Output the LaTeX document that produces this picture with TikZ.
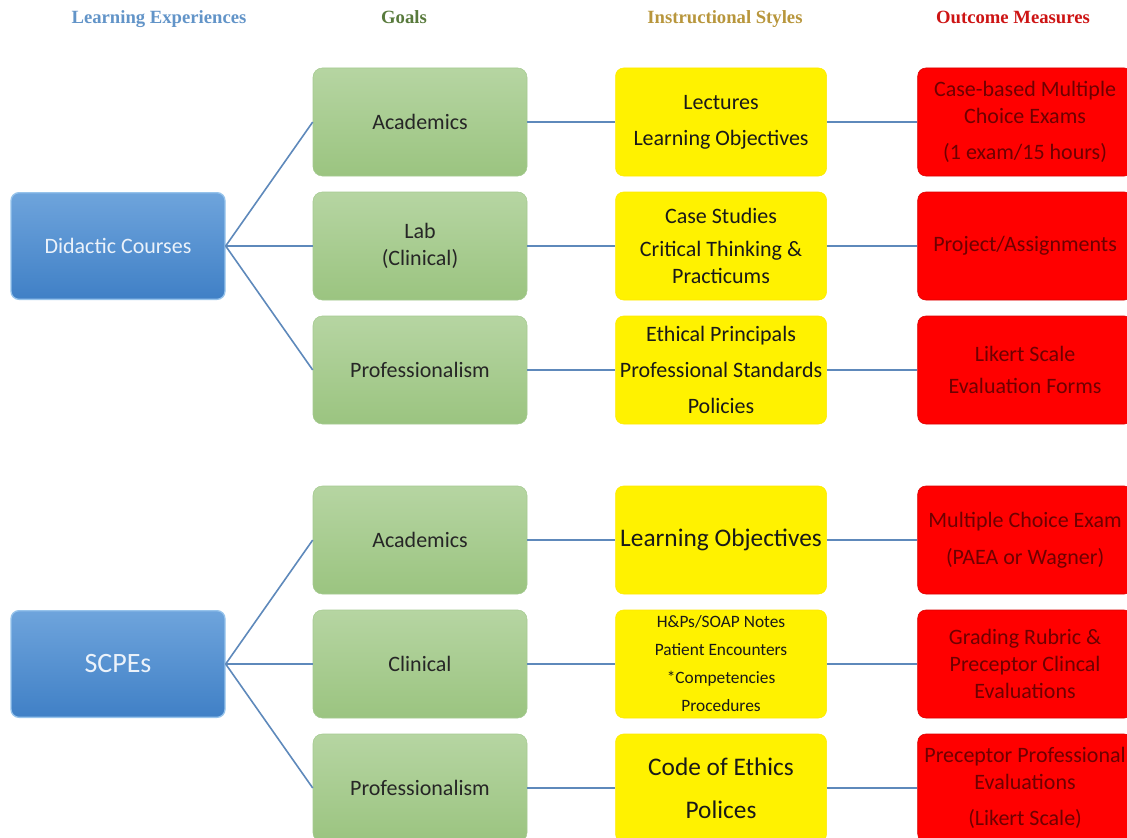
\documentclass[tikz,border=0pt]{standalone}
\usepackage{fontspec}
\setmainfont{Carlito}
\newfontfamily\headfont{Liberation Serif}
\usetikzlibrary{positioning}

\definecolor{lineblue}{RGB}{94,137,187}
\definecolor{exptop}{RGB}{110,164,220}
\definecolor{expbot}{RGB}{64,128,198}
\definecolor{expedge}{RGB}{150,195,235}
\definecolor{exptext}{RGB}{235,242,250}
\definecolor{goaltop}{RGB}{182,213,162}
\definecolor{goalbot}{RGB}{155,196,128}
\definecolor{goaledge}{RGB}{165,202,145}
\definecolor{outtext}{RGB}{110,0,0}
\definecolor{hexpcol}{RGB}{98,148,200}
\definecolor{hgoalcol}{RGB}{88,122,60}
\definecolor{hinstcol}{RGB}{184,150,60}
\definecolor{houtcol}{RGB}{205,20,20}

\begin{document}
\begin{tikzpicture}[
    x=0.75pt, y=-0.75pt,
    font=\fontsize{16.5pt}{20pt}\selectfont,
    % Column headings
    head/.style={font=\headfont\bfseries\fontsize{14pt}{16pt}\selectfont, text height=1.6ex, text depth=0.5ex},
    % Boxes of the four columns
    expbox/.style={draw=expedge, line width=1pt, rounded corners=6pt, top color=exptop, bottom color=expbot, text=exptext, minimum width=160.5pt, minimum height=80pt, align=center},
    goalbox/.style={draw=goaledge, rounded corners=7pt, top color=goaltop, bottom color=goalbot, text=black!85, minimum width=160.5pt, minimum height=81pt, align=center},
    instbox/.style={draw=yellow!92!orange, fill=yellow, rounded corners=6pt, text=black!90, minimum width=158.25pt, minimum height=81pt, align=center, inner sep=2pt},
    outbox/.style={draw=red!85!black, fill=red, rounded corners=6pt, text=outtext, minimum width=161pt, minimum height=81pt, align=center, inner sep=2pt},
    % Connectors
    link/.style={draw=lineblue, line width=1.2pt}
]
\useasboundingbox (0,0) rectangle (1127,838);

% ===============================
% Column headings
% ===============================
\node[head, text=hexpcol] (hexp) at (159,20) {Learning Experiences};
\node[head, text=hgoalcol] (hgoal) at (404,20) {Goals};
\node[head, text=hinstcol] (hinst) at (725,20) {Instructional Styles};
\node[head, text=houtcol] (hout) at (1013,20) {Outcome Measures};

% ===============================
% Group 1: Didactic Courses
% ===============================
\begin{scope}[shift={(0,0)}]
    % Nodes
    \node[expbox] (exp1) at (118,246) {Didactic Courses};

    \node[goalbox] (goal1a) at (420,122) {Academics};
    \node[goalbox] (goal1b) at (420,246) {Lab\\(Clinical)};
    \node[goalbox] (goal1c) at (420,370) {Professionalism};

    \node[instbox, right=66pt of goal1a] (inst1a) {Lectures\\[7pt]Learning Objectives};
    \node[instbox, right=66pt of goal1b] (inst1b) {Case Studies\\[5pt]Critical Thinking \&\\Practicums};
    \node[instbox, right=66pt of goal1c] (inst1c) {Ethical Principals\\[7pt]Professional Standards\\[7pt]Policies};

    \node[outbox, right=68pt of inst1a] (out1a) {Case-based Multiple\\Choice Exams\\[7pt](1 exam/15 hours)};
    \node[outbox, right=68pt of inst1b] (out1b) {Project/Assignments};
    \node[outbox, right=68pt of inst1c] (out1c) {Likert Scale\\[4pt]Evaluation Forms};

    % Links
    \foreach \r in {a,b,c} {
        \draw[link] (exp1.east) -- (goal1\r.west);
        \draw[link] (goal1\r.east) -- (inst1\r.west);
        \draw[link] (inst1\r.east) -- (out1\r.west);
    }
\end{scope}

% ===============================
% Group 2: SCPEs
% ===============================
\begin{scope}[shift={(0,418)}]
    % Nodes
    \node[expbox, font=\fontsize{21pt}{24pt}\selectfont] (exp2) at (118,246) {SCPEs};

    \node[goalbox] (goal2a) at (420,122) {Academics};
    \node[goalbox] (goal2b) at (420,246) {Clinical};
    \node[goalbox] (goal2c) at (420,370) {Professionalism};

    \node[instbox, right=66pt of goal2a, font=\fontsize{19pt}{23pt}\selectfont] (inst2a) {Learning Objectives};
    \node[instbox, right=66pt of goal2b, font=\fontsize{13pt}{21pt}\selectfont] (inst2b) {H\&Ps/SOAP Notes\\Patient Encounters\\*Competencies\\Procedures};
    \node[instbox, right=66pt of goal2c, font=\fontsize{19pt}{23pt}\selectfont] (inst2c) {Code of Ethics\\[9pt]Polices};

    \node[outbox, right=68pt of inst2a] (out2a) {Multiple Choice Exam\\[8pt](PAEA or Wagner)};
    \node[outbox, right=68pt of inst2b] (out2b) {Grading Rubric \&\\Preceptor Clincal\\Evaluations};
    \node[outbox, right=68pt of inst2c] (out2c) {Preceptor Professional\\Evaluations\\[7pt](Likert Scale)};

    % Links
    \foreach \r in {a,b,c} {
        \draw[link] (exp2.east) -- (goal2\r.west);
        \draw[link] (goal2\r.east) -- (inst2\r.west);
        \draw[link] (inst2\r.east) -- (out2\r.west);
    }
\end{scope}

\end{tikzpicture}
\end{document}
